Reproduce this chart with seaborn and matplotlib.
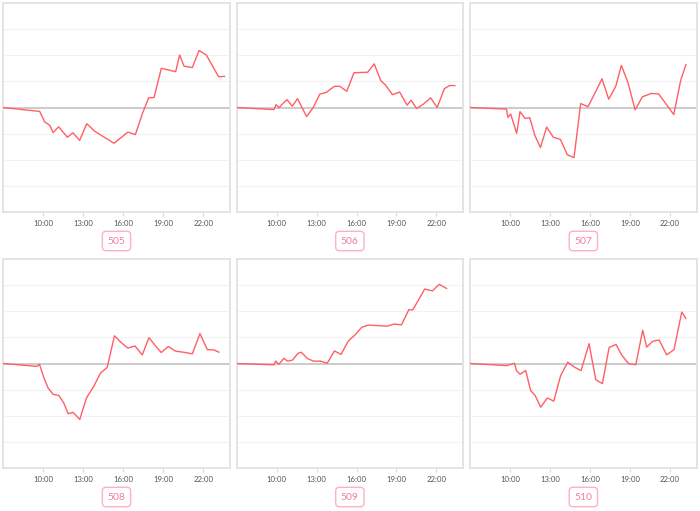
import matplotlib
matplotlib.use("Agg")
import matplotlib.pyplot as plt
import seaborn as sns
import pandas as pd
import numpy as np

sns.set_style("white")
plt.rcParams['font.family'] = ['Lato', 'DejaVu Sans']

# ---- data (hours of day, relative values) ----
names = ["505", "506", "507", "508", "509", "510"]

t505 = [7.0, 9.75, 10.12, 10.5, 10.75, 11.17, 11.82, 12.24, 12.74, 13.27, 13.87, 15.31, 16.36, 16.91,
        17.44, 17.91, 18.31, 18.86, 19.93, 20.23, 20.56, 21.18, 21.68, 22.23, 22.85, 23.15, 23.6]
v505 = [0, -0.15, -0.55, -0.68, -0.96, -0.74, -1.14, -0.97, -1.26, -0.62, -0.91, -1.37, -0.94, -1.04,
        -0.23, 0.37, 0.38, 1.5, 1.37, 2.01, 1.58, 1.53, 2.18, 2.01, 1.44, 1.18, 1.19]

t506 = [7.0, 9.8, 9.95, 10.2, 10.42, 10.78, 11.18, 11.57, 12.25, 12.75, 13.24, 13.73, 14.34, 14.75,
        15.27, 15.81, 16.84, 17.33, 17.82, 18.21, 18.7, 19.24, 19.8, 20.1, 20.51, 21.03, 21.57, 22.06,
        22.6, 22.99, 23.4]
v506 = [0, -0.08, 0.11, -0.01, 0.13, 0.3, 0.05, 0.34, -0.35, 0, 0.51, 0.58, 0.81, 0.81,
        0.62, 1.33, 1.35, 1.67, 1.03, 0.84, 0.49, 0.59, 0.09, 0.28, -0.04, 0.13, 0.37, 0,
        0.72, 0.84, 0.84]

t507 = [7.0, 9.73, 9.85, 10.05, 10.5, 10.75, 11.13, 11.48, 11.85, 12.28, 12.75, 13.25, 13.78, 14.3,
        14.8, 15.3, 15.85, 16.35, 16.9, 17.4, 17.93, 18.35, 18.85, 19.38, 19.93, 20.6, 21.15, 22.28,
        22.8, 23.2]
v507 = [0, -0.06, -0.38, -0.25, -0.99, -0.16, -0.42, -0.39, -1.05, -1.53, -0.75, -1.14, -1.22, -1.81,
        -1.92, 0.15, 0.03, 0.53, 1.1, 0.32, 0.81, 1.61, 0.95, -0.09, 0.41, 0.54, 0.52, -0.27,
        1.04, 1.65]

t508 = [7.0, 9.55, 9.73, 10.05, 10.38, 10.75, 11.18, 11.55, 11.88, 12.25, 12.75, 13.25, 13.8, 14.3,
        14.8, 15.35, 15.85, 16.35, 16.88, 17.43, 17.93, 18.38, 18.85, 19.38, 19.93, 20.55, 21.18,
        21.75, 22.3, 22.8, 23.18]
v508 = [0, -0.11, -0.03, -0.53, -0.94, -1.18, -1.22, -1.51, -1.92, -1.87, -2.14, -1.32, -0.87, -0.37,
        -0.15, 1.06, 0.8, 0.59, 0.67, 0.33, 0.99, 0.7, 0.42, 0.65, 0.47, 0.43, 0.37,
        1.15, 0.53, 0.52, 0.43]

t509 = [7.0, 9.8, 9.93, 10.17, 10.55, 10.82, 11.19, 11.61, 11.86, 12.31, 12.78, 13.3, 13.8, 14.34,
        14.84, 15.38, 15.88, 16.4, 16.9, 18.31, 18.81, 19.38, 19.93, 20.22, 20.67, 21.12, 21.71,
        22.21, 22.78]
v509 = [0, -0.05, 0.09, -0.03, 0.2, 0.09, 0.13, 0.39, 0.43, 0.19, 0.09, 0.09, 0.01, 0.48,
        0.35, 0.86, 1.09, 1.39, 1.47, 1.43, 1.51, 1.48, 2.06, 2.05, 2.44, 2.85, 2.78,
        3.03, 2.87]

t510 = [7.0, 9.75, 10.33, 10.5, 10.75, 11.18, 11.55, 11.88, 12.3, 12.8, 13.28, 13.8, 14.33, 14.83,
        15.33, 15.93, 16.43, 16.93, 17.43, 17.95, 18.38, 18.88, 19.43, 19.95, 20.25, 20.7, 21.18,
        21.75, 22.3, 22.88, 23.2]
v510 = [0, -0.08, 0.01, -0.28, -0.41, -0.27, -1.04, -1.22, -1.67, -1.32, -1.44, -0.46, 0.05, -0.14,
        -0.27, 0.76, -0.62, -0.77, 0.61, 0.73, 0.32, 0, -0.05, 1.27, 0.63, 0.85, 0.9,
        0.33, 0.53, 1.97, 1.72]

times = [t505, t506, t507, t508, t509, t510]
values = [v505, v506, v507, v508, v509, v510]

xticks = [10, 13, 16, 19, 22]
xticklabels = ["10:00", "13:00", "16:00", "19:00", "22:00"]

W, H = 700, 511
fig = plt.figure(figsize=(7, 5.11), dpi=100)

cols = [(3, 230), (236.7, 463), (470, 696.7)]
rows = [(3, 212), (259, 468)]

LINE = "#ff5f66"
for i, name in enumerate(names):
    r, c = divmod(i, 3)
    x0, x1 = cols[c]
    y0, y1 = rows[r]
    ax = fig.add_axes([x0 / W, 1 - y1 / H, (x1 - x0) / W, (y1 - y0) / H])
    df = pd.DataFrame({"time": times[i], "value": values[i]})
    ax.set_xlim(7, 24)
    ax.set_ylim(-4, 4)
    ax.set_yticks(range(-3, 4))
    ax.yaxis.grid(True, color="#f2f2f2", lw=0.8)
    ax.set_axisbelow(True)
    ax.axhline(0, color="#c4c4c4", lw=1.2, zorder=1)
    sns.lineplot(data=df, x="time", y="value", ax=ax, color=LINE, lw=1.0, zorder=3)
    ax.set_xticks(xticks)
    ax.set_xticklabels(xticklabels)
    ax.tick_params(axis="x", length=3, width=0.8, color="#dddddd", labelsize=5.6,
                   labelcolor="#555555", pad=3, bottom=True)
    ax.tick_params(axis="y", left=False, labelleft=False)
    ax.set_xlabel("")
    ax.set_ylabel("")
    for s in ax.spines.values():
        s.set_color("#e2e2e2")
        s.set_linewidth(1.3)
        s.set_visible(True)
    cx = (x0 + x1) / 2 / W
    cy = 1 - (y1 + 29) / H
    fig.text(cx, cy, name, ha="center", va="center", fontsize=7.5, color="#f47d9c",
             bbox=dict(boxstyle="round,pad=0.5,rounding_size=0.35", fc="white",
                       ec="#ffb0c4", lw=1.0))

fig.savefig("out.png", dpi=100)
